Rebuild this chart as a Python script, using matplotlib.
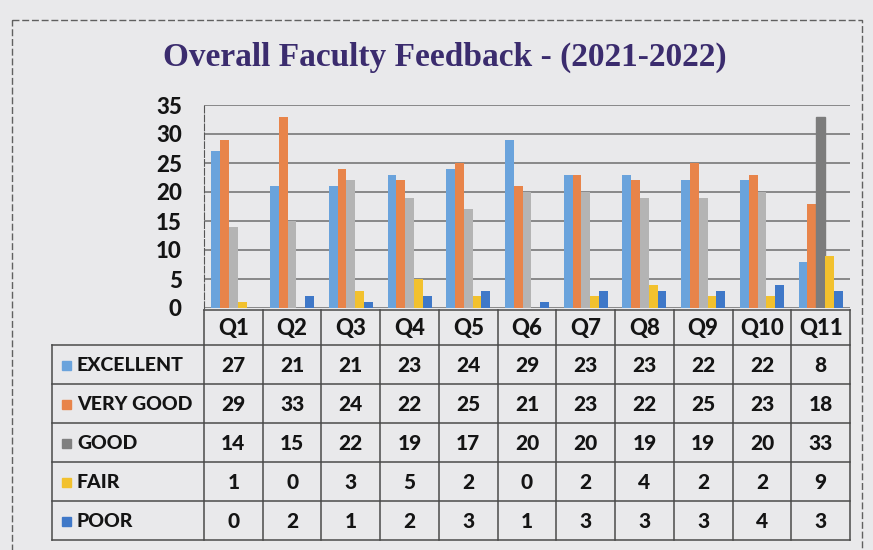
import matplotlib
matplotlib.use("Agg")
import matplotlib.pyplot as plt
from matplotlib.patches import Rectangle

questions = ["Q1", "Q2", "Q3", "Q4", "Q5", "Q6", "Q7", "Q8", "Q9", "Q10", "Q11"]
series_names = ["EXCELLENT", "VERY GOOD", "GOOD", "FAIR", "POOR"]
excellent = [27, 21, 21, 23, 24, 29, 23, 23, 22, 22, 8]
very_good = [29, 33, 24, 22, 25, 21, 23, 22, 25, 23, 18]
good = [14, 15, 22, 19, 17, 20, 20, 19, 19, 20, 33]
fair = [1, 0, 3, 5, 2, 0, 2, 4, 2, 2, 9]
poor = [0, 2, 1, 2, 3, 1, 3, 3, 3, 4, 3]
y_ticks = [0, 5, 10, 15, 20, 25, 30, 35]

series = [excellent, very_good, good, fair, poor]
colors = ["#6aa3dc", "#e8844a", "#b4b4b4", "#f2c12e", "#3f78c8"]
key_colors = ["#6aa3dc", "#e8844a", "#808080", "#f2c12e", "#3f78c8"]

W, H = 873, 550
bg = "#e9e9eb"
font = "Lato"
txt = "#141414"

fig = plt.figure(figsize=(W / 100, H / 100), dpi=100, facecolor=bg)

# pixel helper for axes placement
def px_axes(x0, y0, x1, y1):
    return fig.add_axes([x0 / W, 1 - y1 / H, (x1 - x0) / W, (y1 - y0) / H])

# bar chart area
ax = px_axes(204, 105, 850, 308)
ax.set_facecolor("none")
n = len(series)
bw = 0.15
for i, vals in enumerate(series):
    xs = [j + (i - (n - 1) / 2) * bw for j in range(len(questions))]
    bars = ax.bar(xs, vals, width=bw, color=colors[i], zorder=3)
    if series_names[i] == "GOOD":
        # last GOOD bar is shown highlighted (darker) in the original
        bars[-1].set_color("#7c7c7c")
ax.set_xlim(-0.5, len(questions) - 0.5)
ax.set_ylim(0, 35)
ax.set_yticks(y_ticks)
ax.set_yticklabels([str(t) for t in y_ticks], fontsize=16, fontweight="black",
                   family=font, color=txt)
ax.tick_params(axis="y", length=0, pad=16)
ax.set_xticks([])
ax.grid(axis="y", color="#6e6e6e", linewidth=1.1, zorder=0)
for s in ["right", "bottom", "top"]:
    ax.spines[s].set_visible(False)
ax.spines["left"].set_color("#555555")
ax.spines["left"].set_linestyle((0, (6, 2)))

# overlay in pixel coordinates for title, frame and data table
ov = fig.add_axes([0, 0, 1, 1])
ov.set_xlim(0, W)
ov.set_ylim(H, 0)
ov.axis("off")
ov.patch.set_alpha(0)

ov.add_patch(Rectangle((12, 20), 850, 535, fill=False, edgecolor="#606060",
                       linewidth=1.0, linestyle=(0, (5, 2))))

ov.text(445, 57, "Overall Faculty Feedback - (2021-2022)", ha="center", va="center",
        fontsize=24, fontweight="bold", family="Liberation Serif", color="#3b2c6e")

# table geometry
left_lab, x0, x1 = 52, 204, 850
col_w = (x1 - x0) / len(questions)
header_top, header_bot = 310, 345
row_h = (540 - header_bot) / len(series)
lc = "#4a4a4a"
lw = 1.1

# header row
ov.plot([x0, x1], [header_top, header_top], color=lc, lw=lw)
for j, q in enumerate(questions):
    cx = x0 + (j + 0.5) * col_w
    ov.text(cx, (header_top + header_bot) / 2 + 1, q, ha="center", va="center",
            fontsize=16, fontweight="black", family=font, color=txt)

# horizontal lines of body
for r in range(len(series) + 1):
    y = header_bot + r * row_h
    ov.plot([left_lab, x1], [y, y], color=lc, lw=lw)
# vertical lines
ov.plot([left_lab, left_lab], [header_bot, 540], color=lc, lw=lw)
for j in range(len(questions) + 1):
    x = x0 + j * col_w
    ov.plot([x, x], [header_top, 540], color=lc, lw=lw)

# body cells
for r, (name, vals) in enumerate(zip(series_names, series)):
    cy = header_bot + (r + 0.5) * row_h + 1
    ov.add_patch(Rectangle((62, cy - 5), 9, 9, color=key_colors[r]))
    ov.text(77, cy, name, ha="left", va="center", fontsize=14, fontweight="black",
            family=font, color=txt)
    for j, v in enumerate(vals):
        cx = x0 + (j + 0.5) * col_w
        ov.text(cx, cy, str(v), ha="center", va="center", fontsize=15,
                fontweight="black", family=font, color=txt)

fig.savefig("out.png", dpi=100, facecolor=bg)
